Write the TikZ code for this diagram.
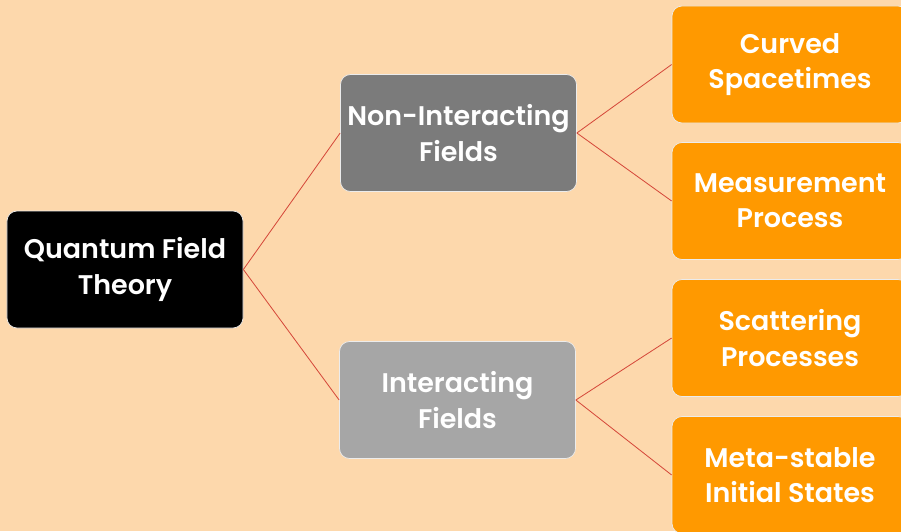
\documentclass[tikz,border=0pt]{standalone}
\usepackage{fontspec}
\setmainfont{Poppins}[BoldFont=* SemiBold]
\definecolor{bg}{HTML}{FDD8AC}
\definecolor{leaf}{HTML}{FF9900}
\definecolor{darkbox}{HTML}{7B7B7B}
\definecolor{lightbox}{HTML}{A6A6A6}
\definecolor{linkred}{HTML}{D5483A}
\begin{document}
\begin{tikzpicture}[x=0.03cm,y=-0.03cm,
 box/.style={draw=white!85!gray,line width=0.6pt,rounded corners=0.3cm,
   minimum width=7.08cm,minimum height=3.51cm,align=center,text=white,
   font=\fontsize{23}{30}\selectfont\bfseries},
 link/.style={draw=linkred,line width=0.7pt}]
 \clip (0,0) rectangle (901,531);
 \fill[bg] (0,0) rectangle (901,531);
 % root and the two branches
 \node[box,fill=black] (qft) at (125,269.5) {Quantum Field\\Theory};
 \node[box,fill=darkbox] (free) at (458.5,133) {Non-Interacting\\Fields};
 \node[box,fill=lightbox] (inter) at (457.5,400) {Interacting\\Fields};
 % leaves
 \node[box,fill=leaf] (curved) at (790,64.5) {Curved\\Spacetimes};
 \node[box,fill=leaf] (measure) at (790,201) {Measurement\\Process};
 \node[box,fill=leaf] (scatter) at (790,338) {Scattering\\Processes};
 \node[box,fill=leaf] (meta) at (790,475) {Meta-stable\\Initial States};
 \draw[link] (qft.east) -- (free.west);
 \draw[link] (qft.east) -- (inter.west);
 \draw[link] (free.east) -- (curved.west);
 \draw[link] (free.east) -- (measure.west);
 \draw[link] (inter.east) -- (scatter.west);
 \draw[link] (inter.east) -- (meta.west);
\end{tikzpicture}
\end{document}
